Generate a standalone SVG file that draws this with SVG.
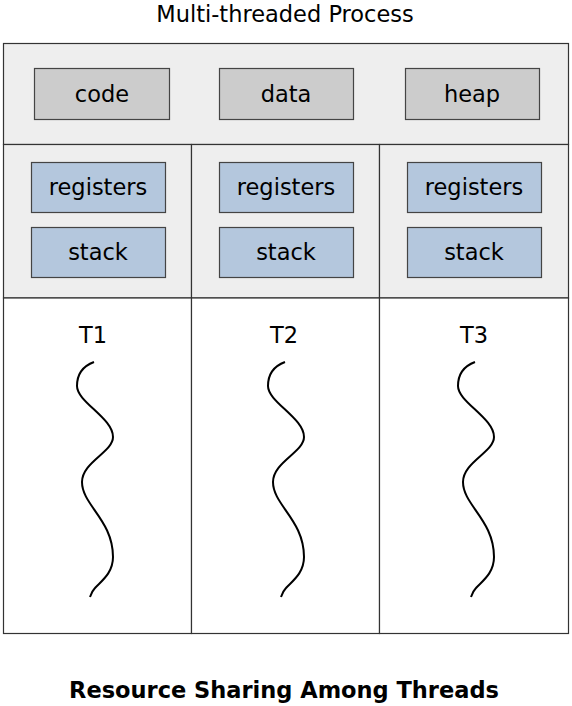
<svg xmlns="http://www.w3.org/2000/svg" width="572" height="706" viewBox="0 0 572 706">
<style>
text{font-family:"DejaVu Sans","Liberation Sans",sans-serif;font-size:22.5px;fill:#000;text-anchor:middle}
.sec{fill:#eeeeee;stroke:#333;stroke-width:1.2}
.white{fill:#fff;stroke:#333;stroke-width:1.2}
.sh{fill:#cccccc;stroke:#444;stroke-width:1.2}
.th{fill:#b4c7dd;stroke:#444;stroke-width:1.2}
.wave{fill:none;stroke:#000;stroke-width:2}
.cap{font-weight:bold}
</style>
<defs>
<path id="wv" class="wave" d="M94,362 C86,365 77,372 77,386 C77,402 113,418 113,437 C113,452 82,462 82,482 C82,505 113,520 113,557 C113,574 100,582 95,588 C92,591 91,594 90,597"/>
</defs>
<text x="285" y="21.5">Multi-threaded Process</text>
<g id="process">
<rect class="sec" x="3.5" y="43.5" width="565" height="101"/>
<rect class="sec" x="3.5" y="144.5" width="188" height="153.5"/>
<rect class="sec" x="191.5" y="144.5" width="188" height="153.5"/>
<rect class="sec" x="379.5" y="144.5" width="189" height="153.5"/>
<rect class="white" x="3.5" y="298" width="188" height="335.5"/>
<rect class="white" x="191.5" y="298" width="188" height="335.5"/>
<rect class="white" x="379.5" y="298" width="189" height="335.5"/>
</g>
<g id="code"><rect class="sh" x="34.5" y="68.5" width="135" height="51"/><text x="102" y="101.5">code</text></g>
<g id="data"><rect class="sh" x="219.5" y="68.5" width="134" height="51"/><text x="286" y="101.5">data</text></g>
<g id="heap"><rect class="sh" x="405.5" y="68.5" width="134" height="51"/><text x="472" y="101.5">heap</text></g>
<g id="thread1">
<rect class="th" x="31.5" y="162.5" width="134" height="50"/><text x="98" y="194.5">registers</text>
<rect class="th" x="31.5" y="227.5" width="134" height="50"/><text x="98" y="260">stack</text>
<text x="93" y="342.5">T1</text>
<use href="#wv"/>
</g>
<g id="thread2">
<rect class="th" x="219.5" y="162.5" width="134" height="50"/><text x="286" y="194.5">registers</text>
<rect class="th" x="219.5" y="227.5" width="134" height="50"/><text x="286" y="260">stack</text>
<text x="284" y="342.5">T2</text>
<use href="#wv" transform="translate(191,0)"/>
</g>
<g id="thread3">
<rect class="th" x="407.5" y="162.5" width="134" height="50"/><text x="474" y="194.5">registers</text>
<rect class="th" x="407.5" y="227.5" width="134" height="50"/><text x="474" y="260">stack</text>
<text x="474" y="342.5">T3</text>
<use href="#wv" transform="translate(381,0)"/>
</g>
<g id="connectors"></g>
<text class="cap" x="284" y="698">Resource Sharing Among Threads</text>
</svg>
